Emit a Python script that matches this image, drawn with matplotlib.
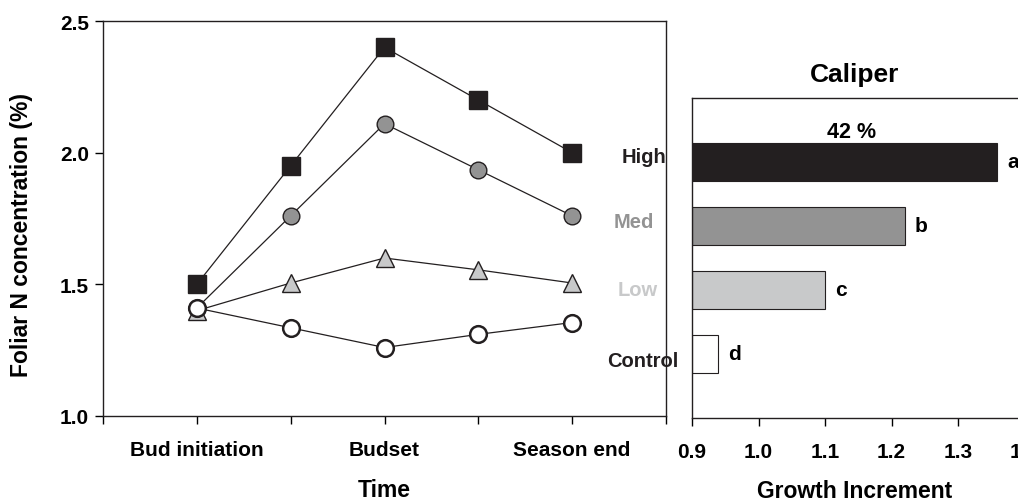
import numpy as np
import matplotlib
matplotlib.use("Agg")
import matplotlib.pyplot as plt

plt.rcParams["font.family"] = ["Liberation Sans", "DejaVu Sans"]
plt.rcParams["font.weight"] = "bold"

# --- data: foliar N over time ---
time_pos    = [1, 2, 3, 4, 5]
time_labels = ["Bud initiation", "Budset", "Season end"]

n_high    = [1.50, 1.95, 2.40, 2.20, 2.00]
n_med     = [1.41, 1.76, 2.11, 1.935, 1.76]
n_low     = [1.40, 1.505, 1.60, 1.555, 1.505]
n_control = [1.41, 1.335, 1.26, 1.31, 1.355]

# --- data: caliper growth increment ---
treatments = ["High", "Med", "Low", "Control"]
caliper    = [1.359, 1.22, 1.10, 0.939]
letters    = ["a", "b", "c", "d"]
bar_colors = ["#231f20", "#939393", "#c8c9ca", "white"]

W, H = 1018, 502
fig = plt.figure(figsize=(W / 100, H / 100), dpi=100)


def px_axes(x0, y0, x1, y1):
    # pixel box (top-left origin) -> figure fraction
    return fig.add_axes([x0 / W, 1 - y1 / H, (x1 - x0) / W, (y1 - y0) / H])


# ---------------- left panel ----------------
ax = px_axes(103, 22, 666, 417)
series = [
    (n_high, "s", "#231f20", 13),
    (n_med, "o", "#939393", 12),
    (n_low, "^", "#c8c9ca", 13),
    (n_control, "o", "white", 12),
]
for vals, mk, fc, ms in series:
    ax.plot(time_pos, vals, color="#231f20", lw=0.9, marker=mk, ms=ms,
            mfc=fc, mec="#231f20", mew=1.0 if fc != "white" else 1.8, zorder=3)

ax.set_xlim(0, 6)
ax.set_ylim(1.0, 2.5)
ax.set_xticks(range(0, 7))
ax.set_xticklabels(["", time_labels[0], "", time_labels[1], "", time_labels[2], ""])
ax.set_yticks([1.0, 1.5, 2.0, 2.5])
ax.set_yticklabels(["1.0", "1.5", "2.0", "2.5"])
ax.tick_params(direction="out", length=6, width=1, labelsize=15, pad=11)
ax.tick_params(axis="y", pad=4)
ax.set_xlabel("Time", fontsize=16.5, fontweight="bold", labelpad=14)
ax.set_ylabel("Foliar N concentration (%)", fontsize=16.5, fontweight="bold")
ax.yaxis.set_label_coords(-0.124, 0.46)
for sp in ax.spines.values():
    sp.set_color("#231f20")
    sp.set_linewidth(1.0)

label_pos = [("High", 1.987, "#231f20", 5.53),
             ("Med", 1.74, "#939393", 5.44),
             ("Low", 1.48, "#c8c9ca", 5.48),
             ("Control", 1.21, "#231f20", 5.37)]
for txt, yv, c, xv in label_pos:
    ax.text(xv, yv, txt, color=c, fontsize=14.5, fontweight="bold",
            ha="left", va="center")

# ---------------- right panel ----------------
bx = px_axes(692, 99, 1050, 419)
ypos = [4, 3, 2, 1]
bx.barh(ypos, np.array(caliper) - 0.9, left=0.9, height=0.6,
        color=bar_colors, edgecolor="#231f20", linewidth=0.8)
for yv, val, lt in zip(ypos, caliper, letters):
    bx.text(val + 0.015, yv, lt, fontsize=15, fontweight="bold",
            ha="left", va="center")
bx.text(1.14, 4.31, "42 %", fontsize=15.5, fontweight="bold", ha="center", va="bottom")

bx.set_xlim(0.9, 0.9 + 358 / 665 * 1.0)
bx.set_ylim(0, 5)
bx.set_xticks([0.9, 1.0, 1.1, 1.2, 1.3, 1.4])
bx.set_xticklabels(["0.9", "1.0", "1.1", "1.2", "1.3", "1.4"])
bx.set_yticks([])
bx.tick_params(direction="out", length=6, width=1, labelsize=15, pad=11)
bx.set_xlabel("Growth Increment", fontsize=16.5, fontweight="bold")
bx.xaxis.set_label_coords((855 - 692) / 358, -0.19)
bx.set_title("Caliper", fontsize=19, fontweight="bold", pad=12, x=(855 - 692) / 358)
for sp in bx.spines.values():
    sp.set_color("#231f20")
    sp.set_linewidth(1.0)

fig.savefig("out.png", dpi=100)
